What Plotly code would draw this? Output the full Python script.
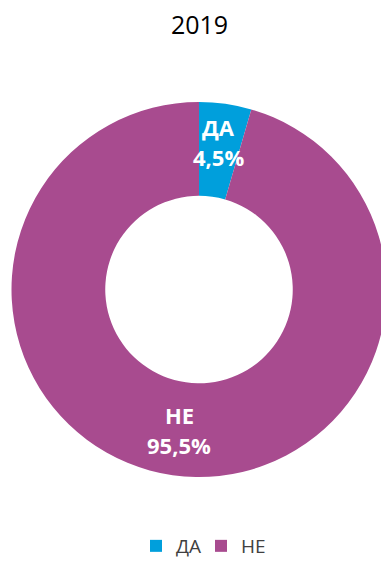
import plotly.graph_objects as go

# Survey answers for 2019
year = "2019"
answers = ["ДА", "НЕ"]
shares = [4.5, 95.5]
colors = ["#009fdc", "#a84b8f"]

VIEW_W, H = 381, 565
# The ring runs slightly past the right edge of the page, so the canvas is
# a little wider than the visible area and the overflow is hidden.
W = 398

fig = go.Figure(
    go.Pie(
        labels=answers,
        values=shares,
        hole=0.5,
        sort=False,
        direction="clockwise",
        rotation=0,
        marker=dict(colors=colors, line=dict(width=0)),
        textinfo="none",
        hoverinfo="label+percent",
        domain=dict(x=[11.5 / W, 386.5 / W], y=[88 / H, 463 / H]),
    )
)

# Slice labels placed inside each ring segment (pixel anchors -> paper coords)
label_pos = [(218, 127, 157), (179, 415, 445)]
anns = []
for name, val, (px, py1, py2) in zip(answers, shares, label_pos):
    pct = f"{val:.1f}%".replace(".", ",")
    for txt, py in ((name, py1), (pct, py2)):
        anns.append(dict(
            text=f"<b>{txt}</b>", x=px / W, y=1 - py / H,
            xref="paper", yref="paper", showarrow=False,
            xanchor="center", yanchor="middle",
            font=dict(family="Open Sans", size=22, color="white"),
        ))

fig.update_layout(
    width=W, height=H,
    margin=dict(l=0, r=0, t=0, b=0, autoexpand=False),
    paper_bgcolor="white", plot_bgcolor="white",
    title=dict(text=year, x=199.5 / W, xanchor="center",
               y=1 - 25 / H, yanchor="middle",
               font=dict(family="Open Sans", size=25, color="black")),
    showlegend=True,
    legend=dict(orientation="h", x=201 / W, xanchor="center",
                y=0, yanchor="bottom",
                entrywidth=20, entrywidthmode="pixels",
                font=dict(family="Open Sans", size=19, color="#404040"),
                itemclick=False),
    annotations=anns,
)

fig.write_html(
    "out.html",
    post_script="document.documentElement.style.overflow='hidden';"
                "document.body.style.overflow='hidden';",
)
